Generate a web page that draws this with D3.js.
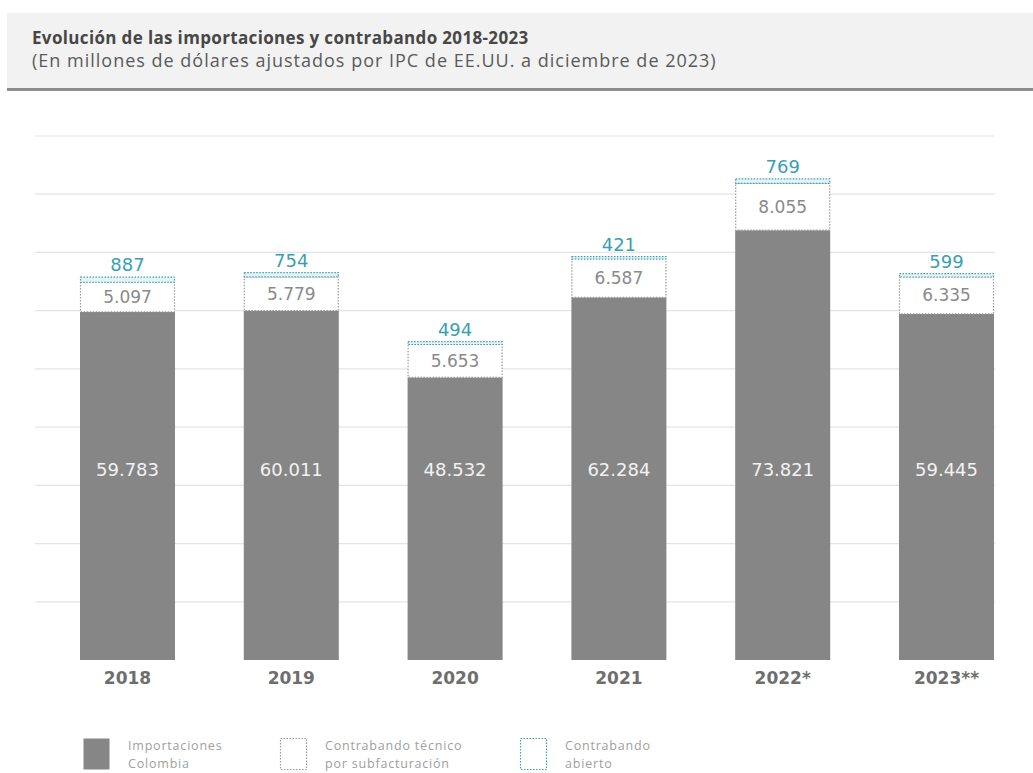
<!DOCTYPE html>
<html lang="es">
<head>
<meta charset="UTF-8" />
<title>Evolución de las importaciones y contrabando 2018-2023</title>
<script src="https://d3js.org/d3.v7.min.js"></script>
<style>
    body { margin: 0; background: #fff; font-family: "Open Sans", "Noto Sans", sans-serif; }
    svg { display: block; }
    .num { font-family: "DejaVu Sans", sans-serif; }
</style>
</head>
<body>
<svg id="chart" width="1033" height="773"></svg>
<script>
    // data (millions of USD)
    const years = ["2018", "2019", "2020", "2021", "2022*", "2023**"];
    const importaciones = [59783, 60011, 48532, 62284, 73821, 59445];
    const contrabandoTecnico = [5097, 5779, 5653, 6587, 8055, 6335];
    const contrabandoAbierto = [887, 754, 494, 421, 769, 599];
    const gridTicks = [0, 10000, 20000, 30000, 40000, 50000, 60000, 70000, 80000, 90000];

    const W = 1033, H = 773;
    const svg = d3.select("#chart");
    const es = d3.formatLocale({ decimal: ",", thousands: ".", grouping: [3], currency: ["$", ""] });
    const fmt = es.format(",d");

    const gray = "#868686";
    const teal = "#3b9fb0";
    const txtGray = "#8a8a8a";

    // header band
    svg.append("rect").attr("x", 7).attr("y", 13).attr("width", W - 7).attr("height", 75).attr("fill", "#f2f2f2");
    svg.append("rect").attr("x", 7).attr("y", 88).attr("width", W - 7).attr("height", 3).attr("fill", "#8c8c8c");
    svg.append("text").attr("x", 32).attr("y", 44)
        .attr("font-size", 17).attr("font-weight", 700).attr("letter-spacing", 0.35).attr("fill", "#474747")
        .text("Evolución de las importaciones y contrabando 2018-2023");
    svg.append("text").attr("x", 32).attr("y", 67)
        .attr("font-size", 18).attr("letter-spacing", 1).attr("fill", "#5a5a5a")
        .text("(En millones de dólares ajustados por IPC de EE.UU. a diciembre de 2023)");

    const y = d3.scaleLinear().domain([0, 90000]).range([660, 136]);
    const x = d3.scaleBand().domain(years).range([80, 994]).paddingInner(0.42).paddingOuter(0);

    // gridlines
    svg.append("g").selectAll("line").data(gridTicks.slice(1)).join("line")
        .attr("x1", 35).attr("x2", 995)
        .attr("y1", d => y(d)).attr("y2", d => y(d))
        .attr("stroke", "#e4e4e4").attr("stroke-width", 1.2);

    const rows = years.map((yr, i) => ({
        yr, imp: importaciones[i], tec: contrabandoTecnico[i], abi: contrabandoAbierto[i]
    }));

    const g = svg.append("g").selectAll("g").data(rows).join("g");

    // importaciones
    g.append("rect")
        .attr("x", d => x(d.yr)).attr("width", x.bandwidth())
        .attr("y", d => y(d.imp)).attr("height", d => y(0) - y(d.imp))
        .attr("fill", gray);

    // contrabando técnico
    g.append("rect")
        .attr("x", d => x(d.yr) + 0.5).attr("width", x.bandwidth() - 1)
        .attr("y", d => y(d.imp + d.tec)).attr("height", d => y(d.imp) - y(d.imp + d.tec))
        .attr("fill", "#fff").attr("stroke", "#9a9a9a").attr("stroke-width", 1.2)
        .attr("stroke-dasharray", "1.5,1.5");

    // contrabando abierto
    g.append("rect")
        .attr("x", d => x(d.yr) + 0.5).attr("width", x.bandwidth() - 1)
        .attr("y", d => y(d.imp + d.tec + d.abi)).attr("height", d => y(d.imp + d.tec) - y(d.imp + d.tec + d.abi))
        .attr("fill", "#e6f3f6").attr("stroke", teal).attr("stroke-width", 1.2)
        .attr("stroke-dasharray", "1.5,1.5");

    // labels
    g.append("text").attr("class", "num")
        .attr("x", d => x(d.yr) + x.bandwidth() / 2).attr("y", y(32500))
        .attr("text-anchor", "middle").attr("dominant-baseline", "middle")
        .attr("font-size", 18).attr("fill", "#f2f2f2")
        .text(d => fmt(d.imp));
    g.append("text").attr("class", "num")
        .attr("x", d => x(d.yr) + x.bandwidth() / 2).attr("y", d => (y(d.imp) + y(d.imp + d.tec)) / 2 + 1)
        .attr("text-anchor", "middle").attr("dominant-baseline", "middle")
        .attr("font-size", 17).attr("fill", txtGray)
        .text(d => fmt(d.tec));
    g.append("text").attr("class", "num")
        .attr("x", d => x(d.yr) + x.bandwidth() / 2).attr("y", d => y(d.imp + d.tec + d.abi) - 6)
        .attr("text-anchor", "middle")
        .attr("font-size", 18).attr("fill", teal)
        .text(d => fmt(d.abi));
    g.append("text").attr("class", "num")
        .attr("x", d => x(d.yr) + x.bandwidth() / 2).attr("y", 684)
        .attr("text-anchor", "middle")
        .attr("font-size", 17).attr("font-weight", 700).attr("fill", "#6e6e6e")
        .text(d => d.yr);

    // legend
    const legend = [
        { lines: ["Importaciones", "Colombia"], fill: gray, stroke: "none", x: 83 },
        { lines: ["Contrabando técnico", "por subfacturación"], fill: "#fff", stroke: "#9a9a9a", x: 280 },
        { lines: ["Contrabando", "abierto"], fill: "#fff", stroke: teal, x: 520 }
    ];
    const lg = svg.append("g").selectAll("g").data(legend).join("g")
        .attr("transform", d => `translate(${d.x},738)`);
    lg.append("rect").attr("x", 0.5).attr("y", 0.5).attr("width", 26).attr("height", 31)
        .attr("fill", d => d.fill).attr("stroke", d => d.stroke)
        .attr("stroke-width", 1.2).attr("stroke-dasharray", "1.5,1.5");
    lg.selectAll("text").data(d => d.lines).join("text")
        .attr("x", 45).attr("y", (d, i) => 12 + i * 17.5)
        .attr("font-size", 12.5).attr("letter-spacing", 0.8).attr("fill", "#a0a0a0")
        .text(d => d);
</script>
</body>
</html>
